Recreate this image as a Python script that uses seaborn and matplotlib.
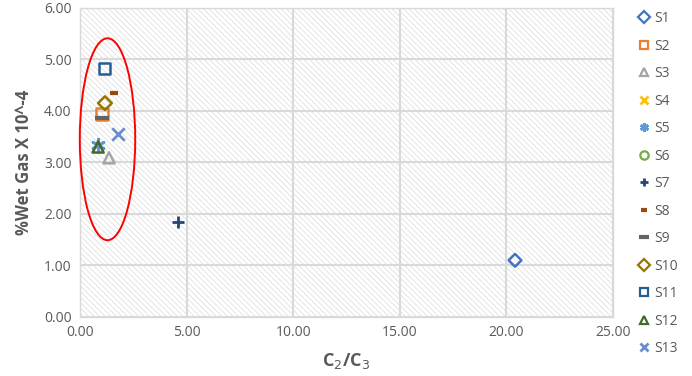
import numpy as np
import pandas as pd
import seaborn as sns
import matplotlib
matplotlib.use("Agg")
import matplotlib.pyplot as plt
from matplotlib.lines import Line2D
from matplotlib.patches import Ellipse

series = ['S1', 'S2', 'S3', 'S4', 'S5', 'S6', 'S7', 'S8', 'S9', 'S10', 'S11', 'S12', 'S13']
c2_c3 = [20.4, 1.03, 1.36, np.nan, 0.83, np.nan, 4.6, 1.6, 1.03, 1.17, 1.13, 0.85, 1.78]
wet_gas = [1.10, 3.94, 3.09, np.nan, 3.33, np.nan, 1.84, 4.35, 3.87, 4.15, 4.83, 3.30, 3.55]
x_ticks = [0, 5, 10, 15, 20, 25]
y_ticks = [0, 1, 2, 3, 4, 5, 6]

colors = ['#4472C4', '#ED7D31', '#A5A5A5', '#FFC000', '#5B9BD5', '#70AD47', '#264478',
          '#9E480E', '#636363', '#997300', '#255E91', '#43682B', '#698ED0']
markers = ['D', 's', '^', 'x', (6, 2, 0), 'o', '+', '_', '_', 'D', 's', '^', 'x']
open_m = [True, True, True, False, False, True, False, False, False, True, True, True, False]
sizes = [6.5, 8, 8, 8, 9, 7, 9, 6, 10, 7, 8, 8, 9]

sns.set_theme(style="white")
plt.rcParams['font.family'] = ['Open Sans', 'DejaVu Sans']
plt.rcParams['hatch.color'] = '#DADADA'
plt.rcParams['hatch.linewidth'] = 0.5

df = pd.DataFrame({'series': series, 'x': c2_c3, 'y': wet_gas})

fig = plt.figure(figsize=(6.92, 3.76), dpi=100)
ax = fig.add_axes([0.1156, 0.157, 0.886 - 0.1156, 0.979 - 0.157])
ax.set_xlim(0, 25)
ax.set_ylim(0, 6)

# hatched plot area
ax.patch.set_facecolor('white')
ax.patch.set_hatch('\\\\\\\\\\\\')
ax.patch.set_edgecolor('#DADADA')
ax.patch.set_linewidth(0)

ax.set_xticks(x_ticks)
ax.set_yticks(y_ticks)
ax.set_xticklabels([f"{v:.2f}" for v in x_ticks])
ax.set_yticklabels([f"{v:.2f}" for v in y_ticks])
ax.grid(True, color='#D9D9D9', linewidth=1.5)
ax.set_axisbelow(True)
for s in ax.spines.values():
    s.set_color('#D9D9D9')
    s.set_linewidth(1.0)
ax.tick_params(axis='both', colors='#595959', labelsize=10, length=0, pad=6)

handles = []
for i, row in df.iterrows():
    sub = df.iloc[[i]]
    col = colors[i]
    m = markers[i]
    ms = sizes[i]
    leg_ms = 6 if m in ('D', 's', '^', 'o') else ms * 0.7
    if open_m[i]:
        sns.scatterplot(data=sub, x='x', y='y', marker=m, s=ms ** 2, facecolors='none',
                        edgecolor=col, linewidth=1.8, ax=ax, zorder=3, legend=False)
        handles.append(Line2D([], [], linestyle='none', marker=m, markersize=leg_ms,
                              markerfacecolor='none', markeredgecolor=col, markeredgewidth=1.6,
                              label=row['series']))
    else:
        lw = 3 if m == '_' else 2
        sns.scatterplot(data=sub, x='x', y='y', marker=m, s=ms ** 2, color=col,
                        edgecolor=col, linewidth=lw, ax=ax, zorder=3, legend=False)
        handles.append(Line2D([], [], linestyle='none', marker=m, markersize=leg_ms,
                              color=col, markeredgecolor=col, markeredgewidth=lw,
                              label=row['series']))

ax.add_patch(Ellipse((1.29, 3.45), 2.6, 3.92, fill=False, edgecolor='#FF0000',
                     linewidth=1.4, zorder=4, clip_on=False))

ax.set_xlabel('C$_2$/C$_3$', fontsize=13, fontweight='bold', color='#595959', labelpad=8)
ax.set_ylabel('%Wet Gas X 10^-4', fontsize=12, fontweight='bold', color='#595959', labelpad=8)

fig.legend(handles=handles, loc='upper left', bbox_to_anchor=(0.915, 0.985), frameon=False,
           fontsize=10, labelspacing=0.9, handlelength=0.8, handletextpad=0.3,
           labelcolor='#595959', borderaxespad=0)

fig.savefig('out.png', dpi=100)
